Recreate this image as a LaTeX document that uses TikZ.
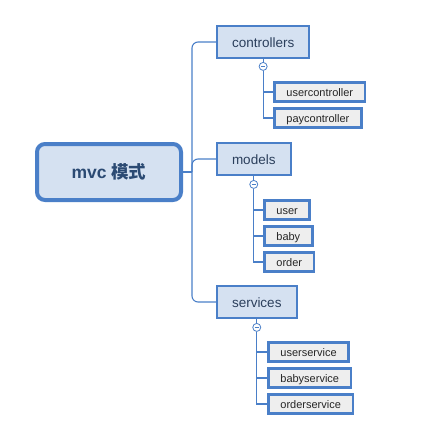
\documentclass[tikz,border=0pt]{standalone}
\usepackage{fontspec}
\setmainfont{Liberation Sans}
\newfontfamily\cjk{Noto Sans CJK SC}
\usetikzlibrary{positioning}

\definecolor{Border}{HTML}{4A7FC8}
\definecolor{TopicFill}{HTML}{D5E1F1}
\definecolor{LeafFill}{HTML}{EEEEEE}
\definecolor{TopicText}{HTML}{2B3F5C}
\definecolor{RootText}{HTML}{2B4A73}

\tikzset{
  root/.style={draw=Border, fill=TopicFill, line width=4pt, rounded corners=8pt,
    minimum width=144pt, minimum height=56pt, text=RootText,
    font=\fontsize{17.5}{20}\selectfont\bfseries},
  topic/.style={draw=Border, fill=TopicFill, line width=2pt, anchor=west,
    inner xsep=15pt, minimum height=32pt, text height=12pt, text depth=1pt,
    text=TopicText, font=\fontsize{13.5}{16}\selectfont},
  leaf/.style={draw=Border, fill=LeafFill, line width=2.8pt, anchor=west,
    inner xsep=12pt, inner ysep=0pt, minimum height=19pt,
    text height=10pt, text depth=0.5pt,
    text=black!85, font=\fontsize{11}{13}\selectfont},
  fold/.style={circle, draw=Border, fill=white, line width=0.8pt,
    minimum size=8pt, inner sep=0pt,
    path picture={\draw[Border, line width=0.8pt]
      ([xshift=-2.2pt]path picture bounding box.center) --
      ([xshift=2.2pt]path picture bounding box.center);}},
  link/.style={draw=Border, line width=1.1pt}
}

\begin{document}
\begin{tikzpicture}[x=1pt, y=-1pt]
 \useasboundingbox (0,0) rectangle (425,445);

 %%%%%%%%%% Root %%%%%%%%%%
 \node[root] (mvc) at (109,172) {mvc {\cjk\bfseries 模式}};
 \coordinate (trunk) at (192,172);

 %%%%%%%%%% Topics %%%%%%%%%%
 \node[topic] (ctrl) at (216,42) {controllers};
 \node[topic] (mod) at (216,159) {models};
 \node[topic] (serv) at (216,302) {services};

 \node[fold, below=3pt of ctrl] (ctrlf) {};
 \node[fold, below=4pt of mod] (modf) {};
 \node[fold, below=4pt of serv] (servf) {};

 %%%%%%%%%% Leaves %%%%%%%%%%
 \node[leaf] (uctrl) at (273,92) {usercontroller};
 \node[leaf] (pctrl) at (273,118) {paycontroller};

 \node[leaf] (user) at (263,210) {user};
 \node[leaf] (baby) at (263,236) {baby};
 \node[leaf] (order) at (263,262) {order};

 \node[leaf] (usrv) at (267,352) {userservice};
 \node[leaf] (bsrv) at (267,378) {babyservice};
 \node[leaf] (osrv) at (267,404) {orderservice};

 %%%%%%%%%% Links %%%%%%%%%%
 \draw[link] (mvc.east) -- (trunk);
 \draw[link, rounded corners=6pt] (ctrl.west) -| (trunk) |- (serv.west);
 \draw[link, rounded corners=6pt] (trunk) |- (mod.west);

 \draw[link] (ctrl.south -| ctrlf) -- (ctrlf.north);
 \draw[link] (mod.south -| modf) -- (modf.north);
 \draw[link] (serv.south -| servf) -- (servf.north);

 \draw[link] (ctrlf.south) |- (uctrl.west);
 \draw[link] (ctrlf.south) |- (pctrl.west);

 \draw[link] (modf.south) |- (user.west);
 \draw[link] (modf.south) |- (baby.west);
 \draw[link] (modf.south) |- (order.west);

 \draw[link] (servf.south) |- (usrv.west);
 \draw[link] (servf.south) |- (bsrv.west);
 \draw[link] (servf.south) |- (osrv.west);

\end{tikzpicture}
\end{document}
